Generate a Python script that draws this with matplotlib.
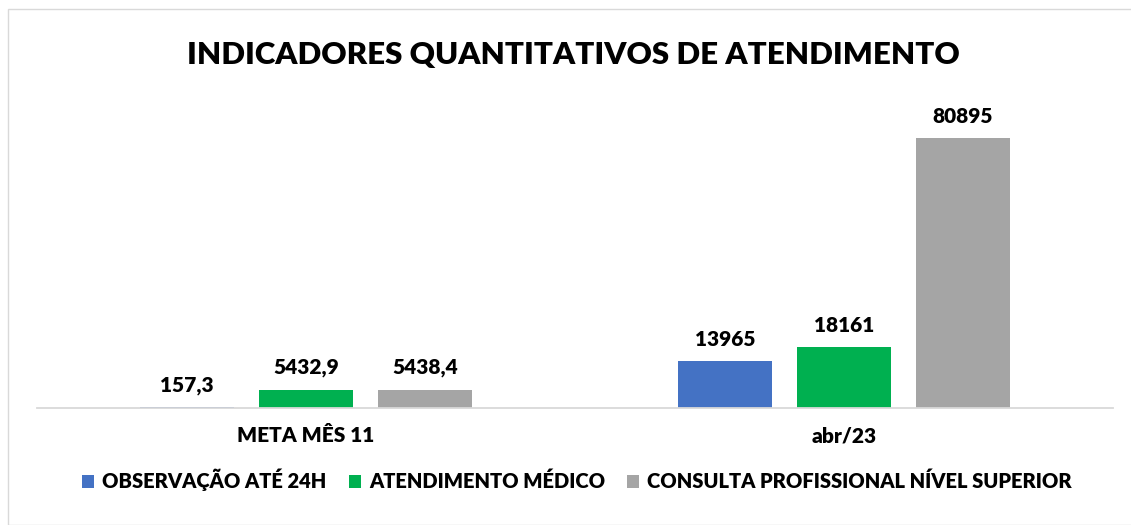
import numpy as np
import matplotlib.pyplot as plt
from matplotlib.patches import Rectangle

plt.rcParams['font.family'] = ['Lato', 'DejaVu Sans']

categories = ['META MÊS 11', 'abr/23']
series_names = ['OBSERVAÇÃO ATÉ 24H', 'ATENDIMENTO MÉDICO',
                'CONSULTA PROFISSIONAL NÍVEL SUPERIOR']
observacao = [157.3, 13965]
atendimento = [5432.9, 18161]
consulta = [5438.4, 80895]
labels_meta = ['157,3', '5432,9', '5438,4']
labels_abr = ['13965', '18161', '80895']
colors = ['#4472C4', '#00B050', '#A5A5A5']
wt = 'heavy'

W, H = 1131, 525
fig = plt.figure(figsize=(W / 100, H / 100), dpi=100)
fig.patches.append(Rectangle((8 / W, 0), 2, (H - 9) / H, transform=fig.transFigure,
                             fill=False, edgecolor='#D9D9D9', linewidth=1))

ax = fig.add_axes([37 / W, 117 / H, 1076 / W, 300 / H])
x = np.arange(len(categories))
width = 0.175
step = 0.221
all_vals = [observacao, atendimento, consulta]
bars = []
for i, vals in enumerate(all_vals):
    b = ax.bar(x + (i - 1) * step, vals, width, color=colors[i], label=series_names[i])
    bars.append(b)

lbls = [labels_meta, labels_abr]
for i, vals in enumerate(all_vals):
    for j, v in enumerate(vals):
        ax.annotate(lbls[j][i], (x[j] + (i - 1) * step, v), xytext=(0, 9),
                    textcoords='offset points', ha='center', va='bottom',
                    fontsize=15, fontweight=wt, color='#000000')

ax.set_xlim(-0.5, 1.5)
ax.set_ylim(0, 90000)
ax.set_yticks([])
for s in ['top', 'right', 'left']:
    ax.spines[s].set_visible(False)
ax.spines['bottom'].set_color('#D9D9D9')
ax.spines['bottom'].set_linewidth(1.3)
ax.set_xticks(x)
ax.set_xticklabels(categories, fontsize=15, fontweight=wt)
ax.tick_params(axis='x', length=0, pad=13)

fig.text(573 / W, 1 - 55 / H, 'INDICADORES QUANTITATIVOS DE ATENDIMENTO',
         ha='center', va='center', fontsize=22.5, fontweight=wt)

fig.legend(handles=bars, loc='center', bbox_to_anchor=(577 / W, 1 - 480 / H), ncol=3,
           frameon=False, prop={'size': 14.5, 'weight': wt}, handlelength=0.6,
           handleheight=0.6, handletextpad=0.4, columnspacing=1.1)

fig.savefig('out.png', dpi=100)
